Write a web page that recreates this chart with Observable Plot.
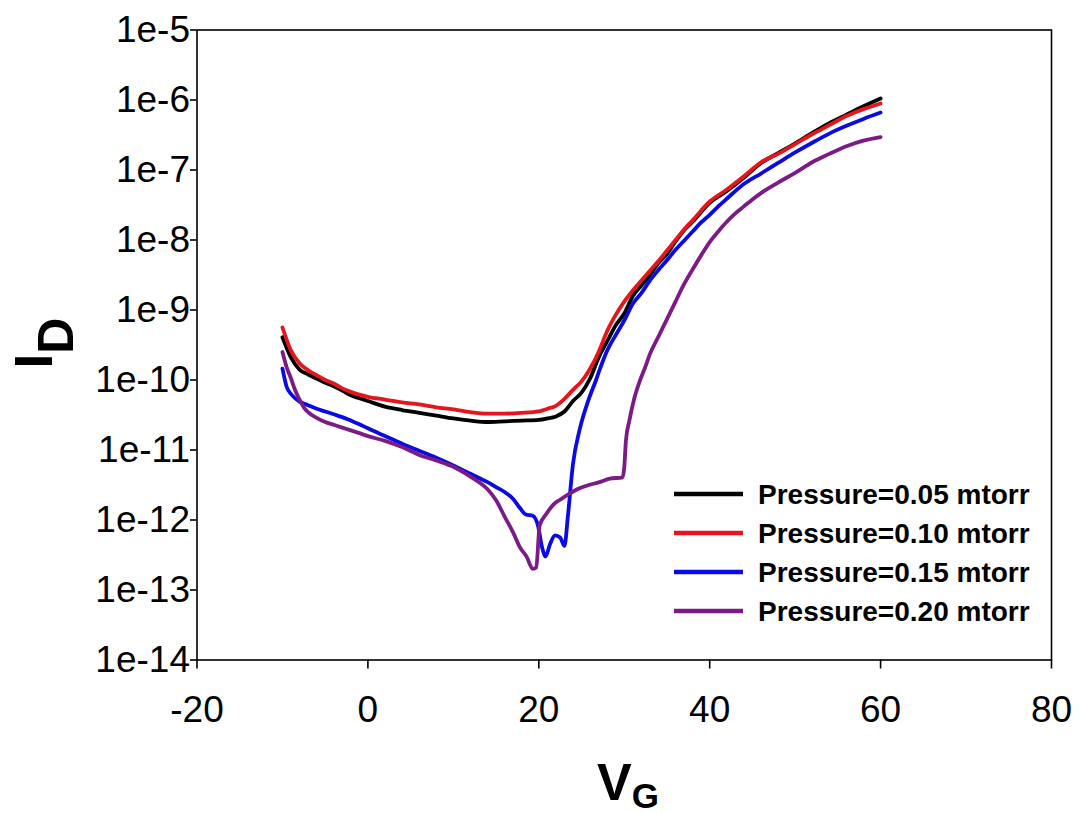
<!DOCTYPE html>
<html>
<head>
<meta charset="utf-8">
<script src="https://cdn.jsdelivr.net/npm/d3@7"></script>
<script src="https://cdn.jsdelivr.net/npm/@observablehq/plot@0.6"></script>
<style>
  body { margin: 0; background: #fff; }
  #chart svg { display: block; }
</style>
</head>
<body>
<div id="chart"></div>
<script>
// Transfer curves I_D(V_G) at four chamber pressures
const seriesNames = ["Pressure=0.05 mtorr", "Pressure=0.10 mtorr", "Pressure=0.15 mtorr", "Pressure=0.20 mtorr"];
const seriesColors = ["#000000", "#e8141c", "#0a0ae6", "#7c1a86"];

const vg005 = [-10,-9,-8,-7,-6,-5,-4,-3,-2,-1,0,2,4,6,8,10,12,14,16,18,20,21,22,23,24,25,26,27,28,29,30,31,32,33,34,35,36,37,38,40,42,44,46,48,50,52,54,56,58,60];
const id005 = [4.07e-10,2.09e-10,1.41e-10,1.20e-10,1.05e-10,9.12e-11,8.13e-11,7.08e-11,6.03e-11,5.50e-11,5.01e-11,4.17e-11,3.72e-11,3.39e-11,3.09e-11,2.82e-11,2.63e-11,2.51e-11,2.57e-11,2.63e-11,2.69e-11,2.82e-11,3.02e-11,3.55e-11,5.01e-11,6.61e-11,1.05e-10,2.09e-10,3.55e-10,6.03e-10,8.91e-10,1.58e-9,2.24e-9,3.16e-9,4.68e-9,6.31e-9,9.55e-9,1.38e-8,1.82e-8,3.39e-8,5.01e-8,7.76e-8,1.26e-7,1.74e-7,2.40e-7,3.39e-7,4.68e-7,6.17e-7,8.13e-7,1.05e-6];

const vg010 = [-10,-9,-8,-7,-6,-5,-4,-3,-2,-1,0,2,4,6,8,10,12,14,16,18,20,21,22,23,24,25,26,27,28,29,30,31,32,33,34,35,36,37,38,40,42,44,46,48,50,52,54,56,58,60];
const id010 = [5.62e-10,2.63e-10,1.74e-10,1.38e-10,1.17e-10,1.00e-10,8.91e-11,7.59e-11,6.76e-11,6.17e-11,5.75e-11,5.25e-11,4.79e-11,4.47e-11,4.07e-11,3.80e-11,3.47e-11,3.31e-11,3.31e-11,3.39e-11,3.55e-11,3.89e-11,4.27e-11,5.37e-11,7.24e-11,9.55e-11,1.45e-10,2.51e-10,5.01e-10,8.51e-10,1.32e-9,1.91e-9,2.63e-9,3.63e-9,5.01e-9,7.08e-9,1.00e-8,1.41e-8,1.91e-8,3.55e-8,5.25e-8,8.13e-8,1.29e-7,1.70e-7,2.34e-7,3.24e-7,4.37e-7,5.89e-7,7.41e-7,8.91e-7];

const vg015 = [-10,-9.5,-9,-8,-7,-6,-5,-4,-3,-2,-1,0,2,4,6,8,10,12,13,14,15,16,17,17.8,18.5,19.3,19.9,20.4,20.8,21.3,21.9,22.5,23.0,23.4,24.0,24.8,25.8,26.7,27.1,28,29,30,31,32,33,34,35,36,37,38,39,40,41,42,44,46,48,50,52,54,56,58,60];
const id015 = [1.45e-10,7.94e-11,6.31e-11,4.90e-11,4.37e-11,3.89e-11,3.55e-11,3.24e-11,2.95e-11,2.63e-11,2.34e-11,2.04e-11,1.58e-11,1.23e-11,9.77e-12,7.76e-12,6.03e-12,4.57e-12,3.98e-12,3.47e-12,2.95e-12,2.51e-12,2.00e-12,1.48e-12,1.20e-12,1.15e-12,8.32e-13,3.98e-13,3.02e-13,4.47e-13,6.03e-13,5.62e-13,4.27e-13,1.12e-12,6.31e-12,2.00e-11,5.13e-11,1.00e-10,1.38e-10,2.63e-10,4.37e-10,7.08e-10,1.23e-9,1.74e-9,2.63e-9,3.72e-9,5.13e-9,7.24e-9,9.77e-9,1.32e-8,1.78e-8,2.29e-8,3.02e-8,3.89e-8,6.31e-8,8.91e-8,1.26e-7,1.78e-7,2.45e-7,3.31e-7,4.27e-7,5.37e-7,6.61e-7];

const vg020 = [-10,-9.5,-9,-8.5,-8,-7.5,-7,-6,-5,-4,-3,-2,-1,0,2,4,6,8,10,12,13,14,15,16,17,17.8,18.6,19.3,19.7,20.1,20.9,21.7,22.5,23.5,24.5,25.6,27.1,28.3,29.8,30.0,30.2,30.6,31.2,31.8,32.5,33,34,35,36,37,38,39,40,41,42,43,44,45,46,48,50,52,54,56,58,60];
const id020 = [2.51e-10,1.51e-10,1.05e-10,7.08e-11,5.25e-11,4.07e-11,3.47e-11,2.88e-11,2.51e-11,2.29e-11,2.09e-11,1.91e-11,1.74e-11,1.58e-11,1.35e-11,1.10e-11,8.51e-12,7.08e-12,5.75e-12,4.17e-12,3.47e-12,2.75e-12,1.91e-12,1.12e-12,6.61e-13,4.07e-13,2.95e-13,2.00e-13,2.09e-13,8.32e-13,1.23e-12,1.66e-12,1.95e-12,2.34e-12,2.75e-12,3.09e-12,3.47e-12,3.89e-12,4.07e-12,5.62e-12,1.38e-11,2.63e-11,5.62e-11,9.55e-11,1.58e-10,2.34e-10,4.17e-10,7.41e-10,1.32e-9,2.34e-9,3.80e-9,6.03e-9,9.33e-9,1.32e-8,1.82e-8,2.40e-8,3.02e-8,3.80e-8,4.68e-8,6.61e-8,9.12e-8,1.29e-7,1.70e-7,2.19e-7,2.63e-7,2.95e-7];

const xTicks = [-20, 0, 20, 40, 60, 80];
const yTicks = [1e-5, 1e-6, 1e-7, 1e-8, 1e-9, 1e-10, 1e-11, 1e-12, 1e-13, 1e-14];
const yTickLabels = ["1e-5", "1e-6", "1e-7", "1e-8", "1e-9", "1e-10", "1e-11", "1e-12", "1e-13", "1e-14"];

const curves = [[vg005, id005], [vg010, id010], [vg015, id015], [vg020, id020]];
const rows = curves.flatMap(([vs, is], k) => vs.map((v, j) => ({v, i: is[j], series: seriesNames[k]})));

const W = 1085, H = 813;
const mL = 196.5, mR = 34, mT = 29.5, mB = 153.5;
const font = "'Liberation Sans', Arial, Helvetica, sans-serif";

const chart = Plot.plot({
  width: W,
  height: H,
  marginLeft: mL,
  marginRight: mR,
  marginTop: mT,
  marginBottom: mB,
  style: {fontFamily: font, color: "#000", background: "#fff", overflow: "visible"},
  x: {domain: [-20, 80]},
  y: {type: "log", domain: [1e-14, 1e-5]},
  color: {domain: seriesNames, range: seriesColors},
  marks: [
    Plot.line(rows, {x: "v", y: "i", z: "series", stroke: "series", curve: "monotone-x",
      strokeWidth: 3.8, strokeLinejoin: "round", strokeLinecap: "round"}),
    Plot.frame({stroke: "#000", strokeWidth: 1.6}),
    Plot.axisX({ticks: xTicks, tickSize: 9, tickPadding: 26.5, fontSize: 37, strokeWidth: 1.6, label: null, tickFormat: d => String(d)}),
    Plot.axisY({ticks: yTicks, tickSize: 6.5, tickPadding: 0.5, fontSize: 37, strokeWidth: 1.6, label: null,
      tickFormat: d => yTickLabels[yTicks.indexOf(d)]})
  ]
});

document.getElementById("chart").appendChild(chart);

const svg = d3.select(chart);
const plotCy = mT + (H - mT - mB) / 2;

// Axis titles with subscripts
const yTitle = svg.append("text")
  .attr("transform", `translate(52,${plotCy + 24}) rotate(-90)`)
  .attr("text-anchor", "start")
  .attr("font-family", font)
  .attr("font-weight", "bold")
  .attr("font-size", 53)
  .attr("fill", "#000");
yTitle.append("tspan").text("I");
yTitle.append("tspan").attr("dy", 21).attr("font-size", 50).text("D");

const xTitle = svg.append("text")
  .attr("x", 597)
  .attr("y", 800)
  .attr("text-anchor", "start")
  .attr("font-family", font)
  .attr("font-weight", "bold")
  .attr("font-size", 52)
  .attr("fill", "#000");
xTitle.append("tspan").text("V");
xTitle.append("tspan").attr("dy", 8).attr("font-size", 35).text("G");

// Legend inside the plot area, lower right
const legend = svg.append("g").attr("text-anchor", "start");
seriesNames.forEach((name, k) => {
  const ly = 494 + 39 * k;
  legend.append("line")
    .attr("x1", 674).attr("x2", 743).attr("y1", ly).attr("y2", ly)
    .attr("stroke", seriesColors[k]).attr("stroke-width", 4.5);
  legend.append("text")
    .attr("x", 758).attr("y", ly + 10)
    .attr("text-anchor", "start")
    .attr("font-family", font)
    .attr("font-weight", "bold")
    .attr("font-size", 28)
    .attr("fill", "#000")
    .text(name);
});
</script>
</body>
</html>
